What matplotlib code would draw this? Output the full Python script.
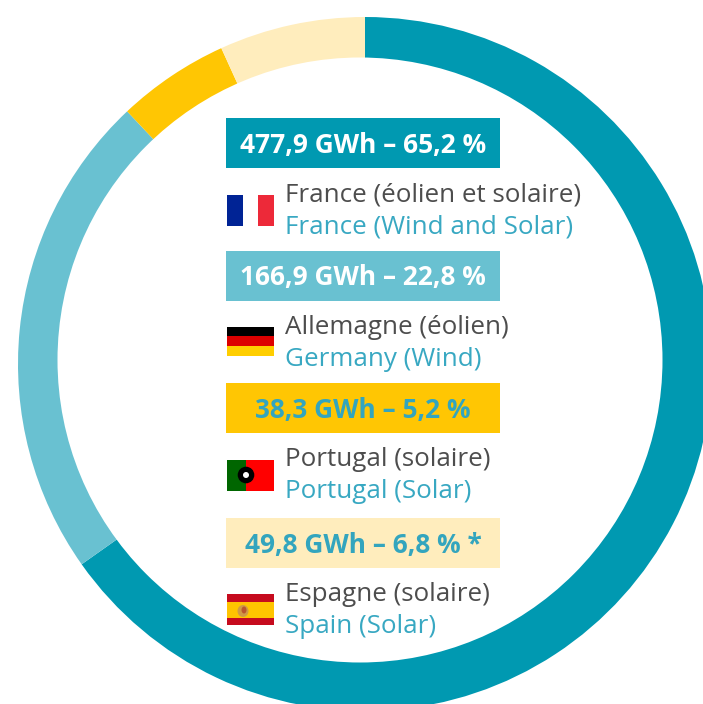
import matplotlib
matplotlib.use("Agg")
import matplotlib.pyplot as plt
from matplotlib.patches import Rectangle, Circle, Ellipse

plt.rcParams["font.family"] = ["Open Sans", "DejaVu Sans"]

# Values
gwh = [477.9, 166.9, 38.3, 49.8]
box_labels = [
    "477,9 GWh – 65,2 %",
    "166,9 GWh – 22,8 %",
    "38,3 GWh – 5,2 %",
    "49,8 GWh – 6,8 % *",
]
names_fr = ["France (éolien et solaire)", "Allemagne (éolien)", "Portugal (solaire)", "Espagne (solaire)"]
names_en = ["France (Wind and Solar)", "Germany (Wind)", "Portugal (Solar)", "Spain (Solar)"]

# Styles
colors = ["#0099B1", "#69C1D1", "#FFC603", "#FFEDBD"]
box_text_colors = ["white", "white", "#33A5BE", "#33A5BE"]
GREY = "#4D4D4D"
TEAL = "#38A8C2"

W, H = 703, 704
box_tops = [118, 251, 383, 518]
box_base = [153, 285, 418, 553]
flag_tops = [195, 327, 460, 594]
fr_base = [201, 334, 466, 601]
en_base = [233, 366, 498, 633]


def rect(ax, x0, y0, x1, y1, color, zorder=3):
    # pixel coordinates, y measured from the top
    ax.add_patch(Rectangle((x0, H - y1), x1 - x0, y1 - y0, color=color, lw=0, zorder=zorder))


def draw_flags(ax):
    x0, x1 = 227, 274

    # France
    y = flag_tops[0]
    rect(ax, x0, y, 243, y + 31, "#002395")
    rect(ax, 258, y, x1, y + 31, "#ED2939")

    # Germany
    y = flag_tops[1]
    rect(ax, x0, y, x1, y + 9, "#000000")
    rect(ax, x0, y + 9, x1, y + 19, "#DD0000")
    rect(ax, x0, y + 19, x1, y + 29, "#FFCE00")

    # Portugal
    y = flag_tops[2]
    rect(ax, x0, y, 246, y + 31, "#006600")
    rect(ax, 246, y, x1, y + 31, "#FF0000")
    ax.add_patch(Circle((246, H - (y + 15)), 8.3, color="black", lw=0, zorder=4))
    ax.add_patch(Circle((246, H - (y + 15)), 3, color="white", lw=0, zorder=5))

    # Spain
    y = flag_tops[3]
    rect(ax, x0, y, x1, y + 31, "#C60B1E")
    rect(ax, x0, y + 8, x1, y + 24, "#FFC400")
    ax.add_patch(Ellipse((243, H - (y + 17)), 11, 12, color="#D09A45", lw=0, zorder=4))
    ax.add_patch(Ellipse((244, H - (y + 16)), 5, 7, color="#B9562F", lw=0, zorder=5))


fig = plt.figure(figsize=(W / 100, H / 100), dpi=100)
ax = fig.add_axes([0, 0, 1, 1])

ax.pie(
    gwh,
    colors=colors,
    center=(365, H - 364),
    radius=347,
    startangle=90,
    counterclock=False,
    wedgeprops={"linewidth": 0},
)
# the hole is not concentric in the original, ring is thinner top left
ax.add_patch(Circle((360, H - 360), 302.5, color="white", lw=0, zorder=2))
ax.set_xlim(0, W)
ax.set_ylim(0, H)
ax.set_aspect("equal")
ax.axis("off")

for i in range(len(gwh)):
    rect(ax, 226, box_tops[i], 500, box_tops[i] + 50, colors[i])
    ax.text(363, H - box_base[i], box_labels[i], color=box_text_colors[i],
            fontsize=18.9, fontweight="bold", ha="center", va="baseline", zorder=6)
    ax.text(285, H - fr_base[i], names_fr[i], color=GREY, fontsize=18.7, ha="left", va="baseline", zorder=6)
    ax.text(285, H - en_base[i], names_en[i], color=TEAL, fontsize=18.7, ha="left", va="baseline", zorder=6)

draw_flags(ax)

fig.savefig("out.png", dpi=100)
